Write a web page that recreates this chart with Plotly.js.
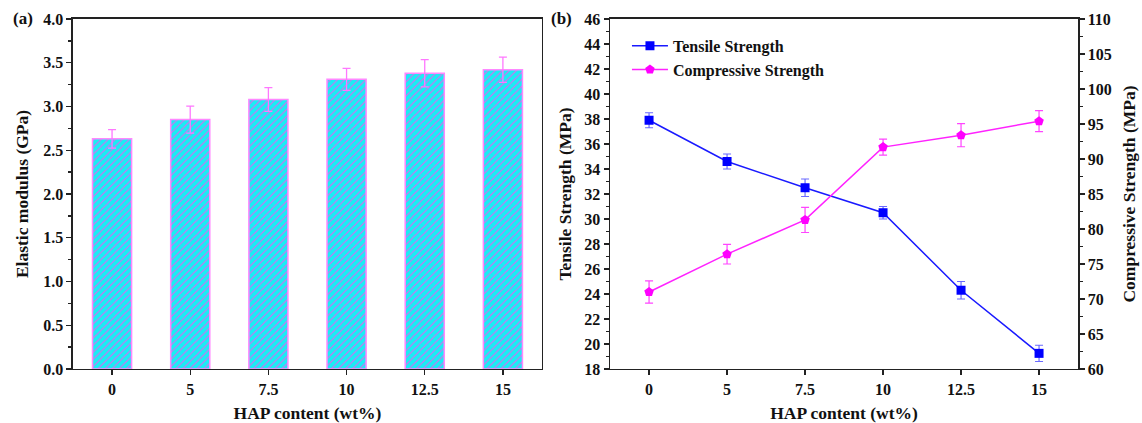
<!DOCTYPE html>
<html>
<head>
<meta charset="utf-8">
<script src="https://cdn.plot.ly/plotly-3.0.1.min.js"></script>
<style>html,body{margin:0;padding:0;background:#fff;}#chart{width:1142px;height:423px;}</style>
</head>
<body>
<div id="chart"></div>
<script>
const categories = ['0', '5', '7.5', '10', '12.5', '15'];
const modulus = [2.63, 2.85, 3.08, 3.31, 3.38, 3.42];
const modulusErr = [0.105, 0.155, 0.135, 0.125, 0.155, 0.145];
const tensile = [37.9, 34.6, 32.5, 30.5, 24.3, 19.25];
const tensileErr = [0.6, 0.6, 0.7, 0.5, 0.7, 0.65];
const compressive = [71.0, 76.4, 81.3, 91.7, 93.4, 95.4];
const compressiveErr = [1.6, 1.4, 1.8, 1.15, 1.65, 1.5];

const F = 'Liberation Serif, Times New Roman, serif';
const tickFont = {family: F, size: 16, color: '#111', weight: 'bold'};
const titleFont = {family: F, size: 17.5, color: '#111', weight: 'bold'};

const traces = [
  {
    type: 'bar', x: categories, y: modulus, xaxis: 'x', yaxis: 'y', width: 0.5,
    showlegend: false,
    marker: {
      color: '#18eef4',
      line: {color: '#ff88ff', width: 1.5},
      pattern: {shape: '/', bgcolor: '#18eef4', fgcolor: '#d070f0', size: 5, solidity: 0.22, fillmode: 'replace'}
    },
    error_y: {type: 'data', array: modulusErr, visible: true, color: '#ff77ff', thickness: 1.3, width: 4}
  },
  {
    type: 'scatter', mode: 'lines+markers', name: 'Tensile Strength',
    x: categories, y: tensile, xaxis: 'x2', yaxis: 'y2',
    line: {color: '#1a1aff', width: 1.5},
    marker: {symbol: 'square', size: 9, color: '#0000ff'},
    error_y: {type: 'data', array: tensileErr, visible: true, color: '#6a6aff', thickness: 1.2, width: 4}
  },
  {
    type: 'scatter', mode: 'lines+markers', name: 'Compressive Strength',
    x: categories, y: compressive, xaxis: 'x2', yaxis: 'y3',
    line: {color: '#ff22ff', width: 1.5},
    marker: {symbol: 'pentagon', size: 10, color: '#ff00ff'},
    error_y: {type: 'data', array: compressiveErr, visible: true, color: '#ff44ff', thickness: 1.2, width: 4}
  }
];

const axisBase = {
  showline: true, linecolor: '#222', linewidth: 1.5, showgrid: false, zeroline: false,
  ticks: 'outside', ticklen: 5, tickwidth: 1.3, tickcolor: '#222', tickfont: tickFont
};

const layout = {
  width: 1142, height: 423,
  margin: {l: 0, r: 0, t: 0, b: 0},
  paper_bgcolor: '#fff', plot_bgcolor: '#fff',
  font: {family: F, color: '#111'},
  showlegend: true,
  legend: {x: 0.549, y: 0.932, xanchor: 'left', yanchor: 'top', bgcolor: 'rgba(0,0,0,0)',
           font: {family: F, size: 16, color: '#111', weight: 'bold'}, tracegroupgap: 0, itemwidth: 36},
  xaxis: Object.assign({}, axisBase, {
    domain: [0.0639, 0.4746], anchor: 'y', type: 'category', range: [-0.5, 5.5], mirror: true,
    title: {text: 'HAP content (wt%)', font: titleFont, standoff: 12}
  }),
  yaxis: Object.assign({}, axisBase, {
    domain: [0.1277, 0.9551], anchor: 'x', range: [0, 4], dtick: 0.5, tickformat: '.1f', mirror: true,
    minor: {dtick: 0.25, ticks: 'outside', ticklen: 3, tickcolor: '#222'},
    title: {text: 'Elastic modulus (GPa)', font: titleFont, standoff: 10}
  }),
  xaxis2: Object.assign({}, axisBase, {
    domain: [0.5342, 0.9440], anchor: 'y2', type: 'category', range: [-0.5, 5.5], mirror: true,
    title: {text: 'HAP content (wt%)', font: titleFont, standoff: 12}
  }),
  yaxis2: Object.assign({}, axisBase, {
    domain: [0.1277, 0.9551], anchor: 'x2', range: [18, 46], dtick: 2,
    minor: {dtick: 1, ticks: 'outside', ticklen: 3, tickcolor: '#222'},
    title: {text: 'Tensile Strength (MPa)', font: titleFont, standoff: 8}
  }),
  yaxis3: Object.assign({}, axisBase, {
    overlaying: 'y2', side: 'right', anchor: 'x2', range: [60, 110], dtick: 5,
    minor: {dtick: 2.5, ticks: 'outside', ticklen: 3, tickcolor: '#222'},
    title: {text: 'Compressive Strength (MPa)', font: titleFont, standoff: 12}
  }),
  annotations: [
    {text: '<b>(a)</b>', x: 23 / 1142, y: 1 - 19 / 423, xref: 'paper', yref: 'paper', xanchor: 'center', yanchor: 'middle',
     showarrow: false, font: {family: F, size: 17, color: '#111'}},
    {text: '<b>(b)</b>', x: 561 / 1142, y: 1 - 19 / 423, xref: 'paper', yref: 'paper', xanchor: 'center', yanchor: 'middle',
     showarrow: false, font: {family: F, size: 17, color: '#111'}}
  ]
};
Plotly.newPlot('chart', traces, layout, {displayModeBar: false, staticPlot: true});
</script>
</body>
</html>
